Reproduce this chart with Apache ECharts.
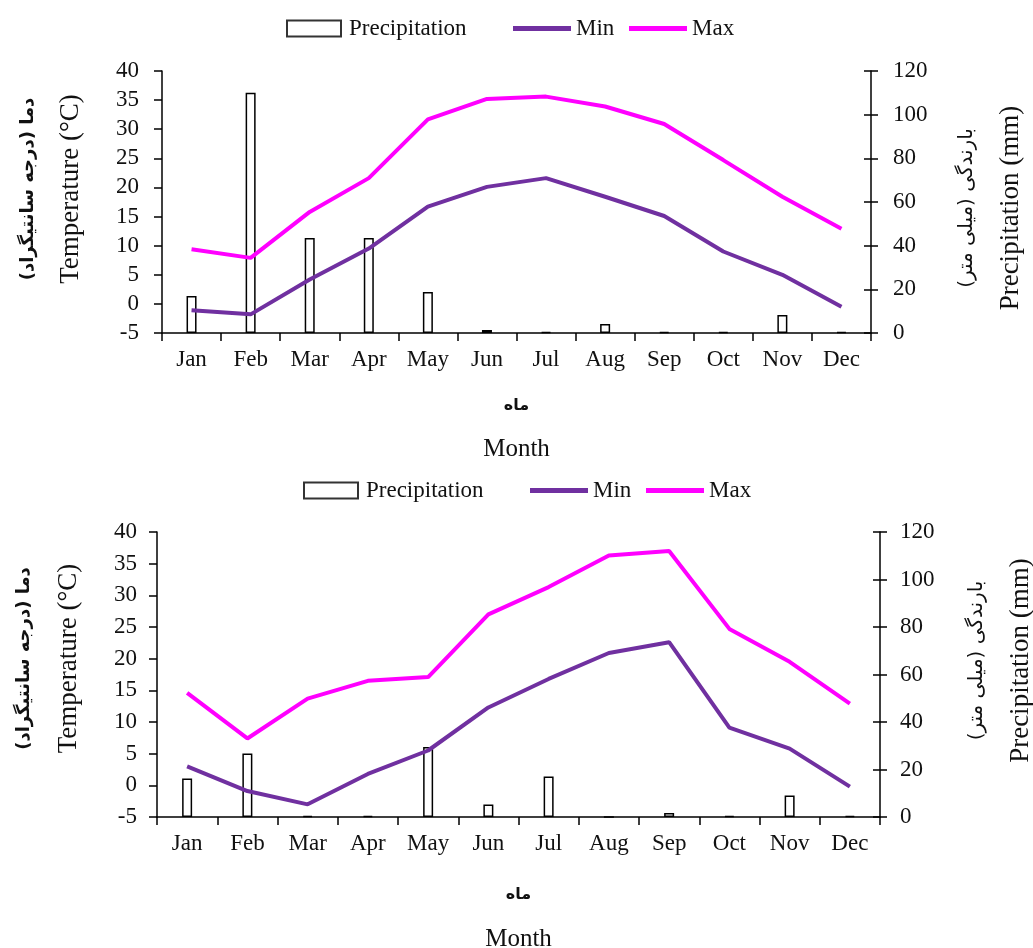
<!DOCTYPE html>
<html>
<head>
<meta charset="utf-8">
<title>Temperature and precipitation</title>
<script src="https://cdn.jsdelivr.net/npm/echarts@6/dist/echarts.min.js"></script>
<style>
  html, body { margin: 0; padding: 0; background: #fff; }
  #chart { width: 1033px; height: 948px; }
</style>
</head>
<body>
<div id="chart"></div>
<script>
// categories
const months = ['Jan', 'Feb', 'Mar', 'Apr', 'May', 'Jun', 'Jul', 'Aug', 'Sep', 'Oct', 'Nov', 'Dec']

// top station
const precipTop = [17, 110, 43.5, 43.5, 18.8, 1.4, 0.5, 4.1, 0.5, 0.5, 8.2, 0.5]
const minTop = [-1.1, -1.8, 4.2, 9.5, 16.7, 20.1, 21.6, 18.4, 15.1, 9.0, 5.0, -0.5]
const maxTop = [9.4, 7.9, 15.8, 21.6, 31.7, 35.2, 35.6, 33.9, 30.9, 24.7, 18.4, 12.9]

// bottom station
const precipBottom = [16.2, 26.7, 0.5, 0.5, 29.5, 5.3, 17.1, 0, 1.7, 0.5, 9.1, 0.5]
const minBottom = [3.0, -0.9, -3.0, 1.8, 5.5, 12.3, 16.8, 20.9, 22.6, 9.1, 5.8, -0.2]
const maxBottom = [14.6, 7.4, 13.7, 16.5, 17.1, 27.0, 31.3, 36.3, 37.0, 24.7, 19.5, 12.9]

// axis ranges / labels
const tempRange = { min: -5, max: 40, interval: 5 }
const precipRange = { min: 0, max: 120, interval: 20 }
const tempNameFa = 'دما (درجه سانتیگراد)\u200F'
const tempNameEn = 'Temperature (°C)'
const precipNameFa = 'بارندگی (میلی متر)\u200F'
const precipNameEn = 'Precipitation (mm)'
const monthNameFa = 'ماه'
const monthNameEn = 'Month'

const serif = '"Liberation Serif", "Times New Roman", serif'
const faFont = '"DejaVu Sans", sans-serif'
const ink = '#111'
const minColor = '#7030A0'
const maxColor = '#FF00FF'

function xAxisFor(gridIndex, gap, faLine) {
  return {
    type: 'category',
    gridIndex: gridIndex,
    data: months,
    boundaryGap: true,
    axisLine: { onZero: false, lineStyle: { color: '#000', width: 1.5 } },
    axisTick: { show: true, length: 8, lineStyle: { color: '#000', width: 1.5 } },
    axisLabel: { color: ink, fontFamily: serif, fontSize: 23, margin: 15 },
    name: '{fa|' + monthNameFa + '}\n{en|' + monthNameEn + '}',
    nameLocation: 'middle',
    nameGap: gap,
    nameTextStyle: {
      rich: {
        fa: { fontFamily: faFont, fontSize: 16, fontWeight: 'bold', color: ink, lineHeight: faLine },
        en: { fontFamily: serif, fontSize: 25, color: ink, lineHeight: 30 }
      }
    }
  }
}

function tempAxisFor(gridIndex, gap, faLine, pad, margin) {
  return {
    type: 'value',
    gridIndex: gridIndex,
    position: 'left',
    min: tempRange.min,
    max: tempRange.max,
    interval: tempRange.interval,
    splitLine: { show: false },
    axisLine: { show: true, lineStyle: { color: '#000', width: 1.5 } },
    axisTick: { show: true, length: 8, lineStyle: { color: '#000', width: 1.5 } },
    axisLabel: { color: ink, fontFamily: serif, fontSize: 23, margin: margin },
    name: '{fa|' + tempNameFa + '}\n{en|' + tempNameEn + '}',
    nameLocation: 'middle',
    nameRotate: 90,
    nameGap: gap,
    nameTextStyle: {
      padding: pad,
      rich: {
        fa: { fontFamily: faFont, fontSize: 18, fontWeight: 'bold', color: ink, lineHeight: faLine },
        en: { fontFamily: serif, fontSize: 27, color: ink, lineHeight: 30 }
      }
    }
  }
}

function precipAxisFor(gridIndex, gap, faLine, pad, margin) {
  return {
    type: 'value',
    gridIndex: gridIndex,
    position: 'right',
    min: precipRange.min,
    max: precipRange.max,
    interval: precipRange.interval,
    splitLine: { show: false },
    axisLine: { show: true, lineStyle: { color: '#000', width: 1.5 } },
    axisTick: { show: true, length: 7, lineStyle: { color: '#000', width: 1.5 } },
    axisLabel: { color: ink, fontFamily: serif, fontSize: 23, margin: margin },
    name: '{fa|' + precipNameFa + '}\n{en|' + precipNameEn + '}',
    nameLocation: 'middle',
    nameRotate: 90,
    nameGap: gap,
    nameTextStyle: {
      padding: pad,
      rich: {
        fa: { fontFamily: faFont, fontSize: 20, color: ink, lineHeight: faLine },
        en: { fontFamily: serif, fontSize: 27, color: ink, lineHeight: 30 }
      }
    }
  }
}

// inner half of the crossing ticks on the right axis
function precipInnerTicks(gridIndex) {
  return {
    type: 'value',
    gridIndex: gridIndex,
    position: 'right',
    min: precipRange.min,
    max: precipRange.max,
    interval: precipRange.interval,
    splitLine: { show: false },
    axisLine: { show: false },
    axisTick: { show: true, inside: true, length: 7, lineStyle: { color: '#000', width: 1.5 } },
    axisLabel: { show: false }
  }
}

function seriesFor(xIdx, tempIdx, precipIdx, precip, tmin, tmax) {
  return [
    {
      name: 'Precipitation',
      type: 'bar',
      xAxisIndex: xIdx,
      yAxisIndex: precipIdx,
      data: precip,
      barWidth: 10,
      itemStyle: { color: '#fff', borderColor: '#000', borderWidth: 1.5 },
      z: 2
    },
    {
      name: 'Min',
      type: 'line',
      xAxisIndex: xIdx,
      yAxisIndex: tempIdx,
      data: tmin,
      symbol: 'none',
      lineStyle: { color: minColor, width: 4 },
      itemStyle: { color: minColor },
      z: 3
    },
    {
      name: 'Max',
      type: 'line',
      xAxisIndex: xIdx,
      yAxisIndex: tempIdx,
      data: tmax,
      symbol: 'none',
      lineStyle: { color: maxColor, width: 4 },
      itemStyle: { color: maxColor },
      z: 3
    }
  ]
}

// one legend per entry so each sits where the reference puts it
function legendItem(name, left, top, isBar) {
  return {
    left: left,
    top: top,
    itemWidth: isBar ? 54 : 58,
    itemHeight: isBar ? 16 : 5,
    icon: 'rect',
    data: [name],
    itemStyle: isBar ? { color: '#fff', borderColor: '#333', borderWidth: 2 } : {},
    textStyle: { fontFamily: serif, fontSize: 23, color: ink, padding: isBar ? [0, 0, 0, 3] : 0 }
  }
}

const chart = echarts.init(document.getElementById('chart'), null, { renderer: 'canvas' })

const option = {
  backgroundColor: '#fff',
  animation: false,
  legend: [
    legendItem('Precipitation', 281, 12, true),
    legendItem('Min', 508, 12, false),
    legendItem('Max', 624, 12, false),
    legendItem('Precipitation', 298, 474, true),
    legendItem('Min', 525, 474, false),
    legendItem('Max', 641, 474, false)
  ],
  grid: [
    { left: 162, right: 1033 - 871, top: 71, height: 262, outerBoundsMode: 'none' },
    { left: 157, right: 1033 - 880, top: 532, height: 285, outerBoundsMode: 'none' }
  ],
  xAxis: [xAxisFor(0, 45, 56), xAxisFor(1, 49, 58)],
  yAxis: [
    tempAxisFor(0, 76, 56, [0, 0, 0, 26], 23),
    precipAxisFor(0, 67, 58, [0, 12, 0, 0], 22),
    tempAxisFor(1, 73, 60, [0, 0, 0, 32], 20),
    precipAxisFor(1, 68, 58, [0, 0, 0, 28], 20),
    precipInnerTicks(0),
    precipInnerTicks(1)
  ],
  series: [].concat(
    seriesFor(0, 0, 1, precipTop, minTop, maxTop),
    seriesFor(1, 2, 3, precipBottom, minBottom, maxBottom)
  )
}

chart.setOption(option)
</script>
</body>
</html>
